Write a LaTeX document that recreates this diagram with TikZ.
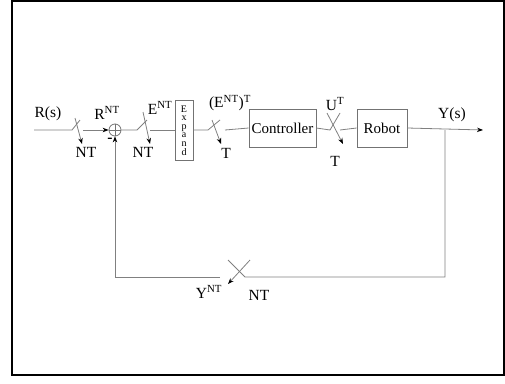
\documentclass[tikz,border=0pt]{standalone}
\usepackage{fontspec}
\setmainfont{Liberation Serif}
\usetikzlibrary{arrows.meta}
\begin{document}
\begin{tikzpicture}[x=1pt,y=-1pt,
  ln/.style={draw=black!50, line width=0.8pt},
  ar/.style={ln, -{Stealth[length=6pt,width=4.5pt,color=black]}},
  blk/.style={draw=black!55, line width=0.8pt, rectangle, inner sep=0pt, font=\fontsize{15}{15}\selectfont},
  lbl/.style={inner sep=0pt, font=\fontsize{15.5}{15.5}\selectfont},
  ltr/.style={inner sep=0pt, anchor=base, font=\fontsize{10}{10}\selectfont}]
\useasboundingbox (0,0) rectangle (505,383);
\draw[line width=2pt] (12,1) rectangle (504,375);
% blocks
\node[blk, minimum width=18pt, minimum height=60pt] (exp) at (184,130) {};
\node[ltr] (e1) at (184,112) {E};
\node[ltr] (e2) at (184,120.6) {x};
\node[ltr] (e3) at (184,129.2) {p};
\node[ltr] (e4) at (184,137.8) {a};
\node[ltr] (e5) at (184,146.4) {n};
\node[ltr] (e6) at (184,155) {d};
\node[blk, minimum width=67pt, minimum height=38pt] (ctrl) at (282.5,128) {Controller};
\node[blk, minimum width=50pt, minimum height=38pt] (rob) at (382,128) {Robot};
\node[circle, draw=black!55, line width=0.8pt, minimum size=12pt, inner sep=0pt] (sum) at (115,130) {};
\draw[black!55, line width=0.6pt] (sum.north) -- (sum.south) (sum.west) -- (sum.east);
% coordinates
\coordinate (in) at (34,130);
\coordinate (s1a) at (72,130); \coordinate (s1b) at (80,120);
\coordinate (s1c) at (75,118); \coordinate (s1d) at (82,144); \coordinate (s1e) at (83,130);
\coordinate (s2a) at (137,130); \coordinate (s2b) at (147,120);
\coordinate (s2c) at (143,112); \coordinate (s2d) at (150,144); \coordinate (s2e) at (150,130);
\coordinate (s3a) at (208,130); \coordinate (s3b) at (220,120);
\coordinate (s3c) at (212,120); \coordinate (s3d) at (221,144); \coordinate (s3e) at (225,130);
\coordinate (s4a) at (330,130); \coordinate (s4b) at (340,113);
\coordinate (s4c) at (327,113); \coordinate (s4d) at (343,144); \coordinate (s4e) at (340,130);
\coordinate (out) at (483,130); \coordinate (br) at (445,130);
\coordinate (fr) at (445,277); \coordinate (f5a) at (245,277); \coordinate (f5b) at (228,260);
\coordinate (f5c) at (250,260); \coordinate (f5d) at (228,284); \coordinate (f5e) at (220,277);
\coordinate (fl) at (115,277);
% forward path
\draw[ln] (in) -- (s1a) -- (s1b);
\draw[ar] (s1c) -- (s1d);
\draw[ar] (s1e) -- (sum.west);
\draw[ln] (sum.east) -- (s2a) -- (s2b);
\draw[ar] (s2c) -- (s2d);
\draw[ln] (s2e) -- (exp.west);
\draw[ln] (exp.east) -- (s3a) -- (s3b);
\draw[ar] (s3c) -- (s3d);
\draw[ln] (s3e) -- (ctrl.west);
\draw[ln] (ctrl.east) -- (s4a) -- (s4b);
\draw[ar] (s4c) -- (s4d);
\draw[ln] (s4e) -- (rob.west);
\draw[ar] (rob.east) -- (out);
% feedback
\draw[ln] (br) -- (fr) -- (f5a) -- (f5b);
\draw[ar] (f5c) -- (f5d);
\draw[ar] (f5e) -- (fl) -- (sum.south);
% labels
\node[lbl] (lr) at (48,114) {R(s)};
\node[lbl] (l1) at (86,152) {NT};
\node[lbl] (lrnt) at (107,113) {R\textsuperscript{NT}};
\node[lbl] (lm) at (110,140) {\textbf{-}};
\node[lbl] (lent) at (160,108) {E\textsuperscript{NT}};
\node[lbl] (l2) at (143,152) {NT};
\node[lbl] (lentt) at (230,103) {(E\textsuperscript{NT})\textsuperscript{T}};
\node[lbl] (l3) at (226,153) {T};
\node[lbl] (lut) at (335,104) {U\textsuperscript{T}};
\node[lbl] (l4) at (335,161) {T};
\node[lbl] (ly) at (452,115) {Y(s)};
\node[lbl] (lynt) at (209,292) {Y\textsuperscript{NT}};
\node[lbl] (l5) at (259,295) {NT};
\end{tikzpicture}
\end{document}
